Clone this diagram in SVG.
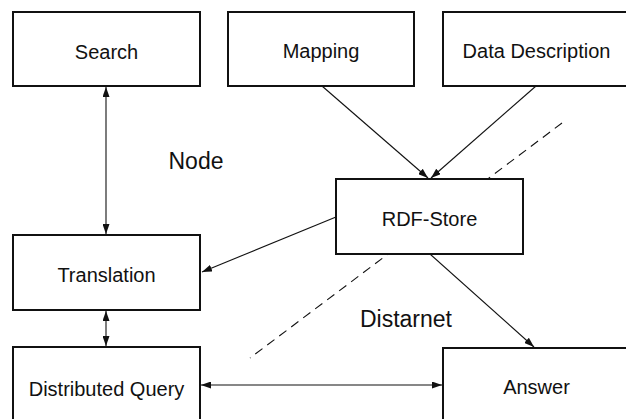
<svg xmlns="http://www.w3.org/2000/svg" width="626" height="419" viewBox="0 0 626 419">
  <style>
    .box rect { fill: #fff; stroke: #111; stroke-width: 2; }
    .box text { font-family: "Liberation Sans", Arial, sans-serif; font-size: 20px; fill: #111; text-anchor: middle; }
    .label { font-family: "Liberation Sans", Arial, sans-serif; font-size: 23px; fill: #111; text-anchor: middle; }
    .edge { stroke: #111; stroke-width: 1.1; fill: none; }
    .boundary { stroke: #111; stroke-width: 1.1; fill: none; stroke-dasharray: 9 6; }
  </style>
  <defs>
    <marker id="head" viewBox="0 0 10 7" refX="10" refY="3.5" markerWidth="10" markerHeight="7" markerUnits="userSpaceOnUse" orient="auto-start-reverse">
      <path d="M0,0 L10,3.5 L0,7 z" fill="#111"/>
    </marker>
  </defs>

  <rect width="626" height="419" fill="#fff"/>

  <!-- boundary between the node and the network -->
  <line class="boundary" x1="562" y1="123" x2="250" y2="358"/>

  <text class="label" x="196" y="169">Node</text>
  <text class="label" x="406" y="327">Distarnet</text>

  <g id="connectors">
    <line class="edge" x1="106" y1="87" x2="106" y2="234" marker-start="url(#head)" marker-end="url(#head)"/>
    <line class="edge" x1="106" y1="311" x2="106" y2="346" marker-start="url(#head)" marker-end="url(#head)"/>
    <line class="edge" x1="322" y1="86" x2="428" y2="178" marker-end="url(#head)"/>
    <line class="edge" x1="536" y1="86" x2="431" y2="178" marker-end="url(#head)"/>
    <line class="edge" x1="336" y1="217" x2="202" y2="272" marker-end="url(#head)"/>
    <line class="edge" x1="430" y1="254" x2="534" y2="347" marker-end="url(#head)"/>
    <line class="edge" x1="201" y1="385" x2="442" y2="385" marker-start="url(#head)" marker-end="url(#head)"/>
  </g>

  <g id="search" class="box">
    <rect x="13" y="12" width="187" height="74"/>
    <text x="106.5" y="59">Search</text>
  </g>
  <g id="mapping" class="box">
    <rect x="228" y="12" width="186" height="74"/>
    <text x="321" y="58">Mapping</text>
  </g>
  <g id="data-description" class="box">
    <rect x="443" y="12" width="187" height="74"/>
    <text x="536.5" y="58">Data Description</text>
  </g>
  <g id="rdf-store" class="box">
    <rect x="336" y="179" width="187" height="75"/>
    <text x="429.5" y="226">RDF-Store</text>
  </g>
  <g id="translation" class="box">
    <rect x="13" y="235" width="187" height="75"/>
    <text x="106.5" y="282">Translation</text>
  </g>
  <g id="distributed-query" class="box">
    <rect x="13" y="347" width="187" height="75"/>
    <text x="106.5" y="396">Distributed Query</text>
  </g>
  <g id="answer" class="box">
    <rect x="443" y="348" width="187" height="75"/>
    <text x="536.5" y="394">Answer</text>
  </g>
</svg>
